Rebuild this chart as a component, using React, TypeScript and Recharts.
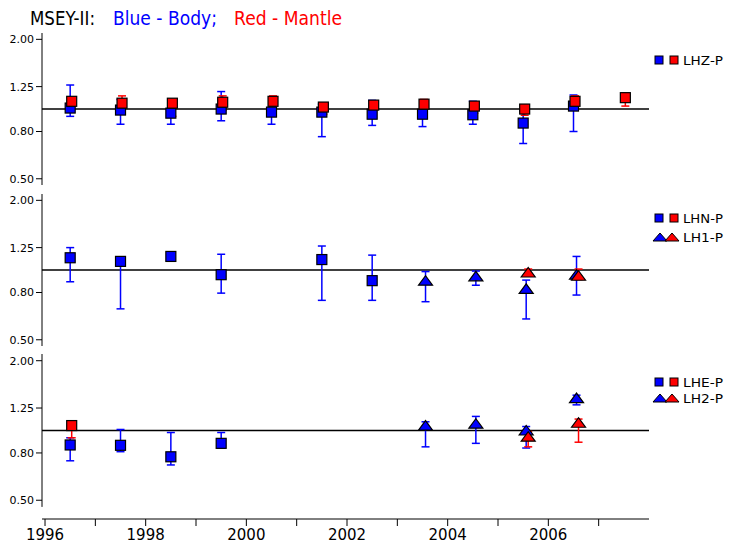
import { ScatterChart, Scatter, XAxis, YAxis, ErrorBar, ReferenceLine } from 'recharts';

// [year, value, low, high]
const lhzBody = [
  [1996.5, 1.01, 0.93, 1.27],
  [1997.5, 0.99, 0.86, 1.1],
  [1998.5, 0.96, 0.86, 1.01],
  [1999.5, 1.0, 0.89, 1.19],
  [2000.5, 0.97, 0.86, 0.99],
  [2001.5, 0.97, 0.76, 1.05],
  [2002.5, 0.95, 0.85, 1.09],
  [2003.5, 0.95, 0.84, 0.99],
  [2004.5, 0.945, 0.86, 1.08],
  [2005.5, 0.87, 0.71, 0.98],
  [2006.5, 1.03, 0.8, 1.15],
];
const lhzMantle = [
  [1996.53, 1.08, 1.03, 1.1],
  [1997.53, 1.06, 1.02, 1.14],
  [1998.53, 1.06, 0.93, 1.07],
  [1999.53, 1.07, 0.99, 1.14],
  [2000.53, 1.08, 1.05, 1.14],
  [2001.53, 1.02, 0.95, 1.06],
  [2002.53, 1.04, 1.0, 1.07],
  [2003.53, 1.05, 0.97, 1.1],
  [2004.53, 1.03, 0.96, 1.05],
  [2005.53, 1.0, 0.94, 1.04],
  [2006.53, 1.08, 1.02, 1.14],
  [2007.53, 1.12, 1.03, 1.17],
];
const lhnBody = [
  [1996.5, 1.13, 0.89, 1.25],
  [1997.5, 1.09, 0.68, 1.1],
  [1998.5, 1.145, 1.13, 1.15],
  [1999.5, 0.955, 0.795, 1.17],
  [2001.5, 1.11, 0.74, 1.27],
  [2002.5, 0.9, 0.74, 1.16],
];
const lh1Body = [
  [2003.56, 0.9, 0.73, 0.985],
  [2004.56, 0.94, 0.86, 0.99],
  [2005.56, 0.83, 0.615, 0.905],
  [2006.56, 0.955, 0.78, 1.145],
];
const lh1Mantle = [
  [2005.6, 0.976, 0.94, 1.01],
  [2006.6, 0.945, 0.91, 1.01],
];
const lheBody = [
  [1996.5, 0.866, 0.74, 0.93],
  [1997.5, 0.863, 0.81, 1.01],
  [1998.5, 0.77, 0.71, 0.98],
  [1999.5, 0.88, 0.84, 0.98],
];
const lheMantle = [[1996.53, 1.05, 0.93, 1.065]];
const lh2Body = [
  [2003.56, 1.05, 0.85, 1.09],
  [2004.56, 1.07, 0.88, 1.15],
  [2005.56, 1.0, 0.84, 1.04],
  [2006.56, 1.38, 1.29, 1.42],
];
const lh2Mantle = [
  [2005.6, 0.94, 0.85, 0.99],
  [2006.6, 1.08, 0.89, 1.12],
];

const yTicks = [0.5, 0.8, 1.25, 2.0];
const xTicks = [1996, 1997, 1998, 1999, 2000, 2001, 2002, 2003, 2004, 2005, 2006, 2007];
const xDomain = [1995.94, 2008.0];
const yDomain = [0.47, 2.13];
const yDomainLast = [0.415, 2.138];

const BLUE = '#0000ff';
const RED = '#ff0000';
const FONT = 'DejaVu Sans';

const toPoints = (rows: number[][]) =>
  rows.map(([x, y, lo, hi]) => ({ x, y, err: [y - lo, hi - y] }));

const square = (color: string) => (p: any) => (
  <rect x={p.cx - 5} y={p.cy - 5} width={10} height={10} fill={color} stroke="#000" strokeWidth={1.2} />
);
const triangle = (color: string) => (p: any) => (
  <polygon
    points={`${p.cx - 7},${p.cy + 4.5} ${p.cx + 7},${p.cy + 4.5} ${p.cx},${p.cy - 5}`}
    fill={color}
    stroke="#000"
    strokeWidth={1.2}
  />
);

const yTick = { fill: '#000', fontSize: 11, fontFamily: FONT };
const xTick = { fill: '#000', fontSize: 15, fontFamily: FONT };

function series(rows: number[][], color: string, shape: 'sq' | 'tri', name: string) {
  return (
    <Scatter
      key={name}
      name={name}
      data={toPoints(rows)}
      isAnimationActive={false}
      shape={shape === 'sq' ? square(color) : triangle(color)}
    >
      <ErrorBar dataKey="err" direction="y" width={4} stroke={color} strokeWidth={1.5} isAnimationActive={false} />
    </Scatter>
  );
}

function Panel({ top, height, mTop, mBottom, last, children }: any) {
  return (
    <div style={{ position: 'absolute', left: 0, top, width: 733, height }}>
      <ScatterChart width={733} height={height} margin={{ top: mTop, right: 84, bottom: mBottom, left: 0 }}>
        <XAxis
          type="number"
          dataKey="x"
          domain={xDomain}
          allowDataOverflow
          hide={!last}
          ticks={xTicks}
          interval={0}
          tickFormatter={(v: number) => (v % 2 === 0 ? String(v) : '')}
          tick={xTick}
          tickSize={7}
          tickMargin={3}
          height={32}
          stroke="#000"
        />
        <YAxis
          type="number"
          dataKey="y"
          scale="log"
          domain={last ? yDomainLast : yDomain}
          allowDataOverflow
          ticks={yTicks}
          interval={0}
          tickFormatter={(v: number) => v.toFixed(2)}
          tick={yTick}
          tickSize={6}
          tickMargin={2}
          width={42}
          axisLine={!last}
          stroke="#000"
        />
        {last && (
          <ReferenceLine
            segment={[
              { x: xDomain[0], y: 0.468 },
              { x: xDomain[0], y: 2.138 },
            ]}
            stroke="#000"
            strokeWidth={1}
            ifOverflow="visible"
          />
        )}
        <ReferenceLine y={1} stroke="#000" strokeWidth={1.5} />
        {children}
      </ScatterChart>
    </div>
  );
}

function LegendRow({ y, kind, label }: { y: number; kind: 'sq' | 'tri'; label: string }) {
  return (
    <g>
      {kind === 'sq' ? (
        <>
          <rect x={655} y={y - 4} width={8} height={8} fill={BLUE} stroke="#000" strokeWidth={1} />
          <rect x={670} y={y - 4} width={8} height={8} fill={RED} stroke="#000" strokeWidth={1} />
        </>
      ) : (
        <>
          <polygon points={`${653},${y + 4} ${667},${y + 4} ${660},${y - 4}`} fill={BLUE} stroke="#000" />
          <polygon points={`${665},${y + 4} ${679},${y + 4} ${672},${y - 4}`} fill={RED} stroke="#000" />
        </>
      )}
      <text x={683} y={y + 4.5} fontSize={12} fontFamily={FONT} fill="#000" textLength={40} lengthAdjust="spacingAndGlyphs">
        {label}
      </text>
    </g>
  );
}

export default function App() {
  return (
    <div style={{ position: 'absolute', left: 0, top: 0, width: 733, height: 551, background: '#fff' }}>
      <Panel top={0} height={190} mTop={33} mBottom={5}>
        {series(lhzBody, BLUE, 'sq', 'LHZ-P body')}
        {series(lhzMantle, RED, 'sq', 'LHZ-P mantle')}
      </Panel>
      <Panel top={190} height={160} mTop={4} mBottom={4}>
        {series(lhnBody, BLUE, 'sq', 'LHN-P body')}
        {series(lh1Body, BLUE, 'tri', 'LH1-P body')}
        {series(lh1Mantle, RED, 'tri', 'LH1-P mantle')}
      </Panel>
      <Panel top={350} height={201} mTop={4} mBottom={0} last>
        {series(lheBody, BLUE, 'sq', 'LHE-P body')}
        {series(lheMantle, RED, 'sq', 'LHE-P mantle')}
        {series(lh2Body, BLUE, 'tri', 'LH2-P body')}
        {series(lh2Mantle, RED, 'tri', 'LH2-P mantle')}
      </Panel>
      <svg width={733} height={551} style={{ position: 'absolute', left: 0, top: 0, pointerEvents: 'none' }}>
        <text x={30} y={25} fontSize={19} fontFamily={FONT} fill="#000" textLength={65} lengthAdjust="spacingAndGlyphs">
          MSEY-II:
        </text>
        <text x={113} y={25} fontSize={19} fontFamily={FONT} fill={BLUE} textLength={104} lengthAdjust="spacingAndGlyphs">
          Blue - Body;
        </text>
        <text x={234} y={25} fontSize={19} fontFamily={FONT} fill={RED} textLength={108} lengthAdjust="spacingAndGlyphs">
          Red - Mantle
        </text>
        <LegendRow y={60} kind="sq" label="LHZ-P" />
        <LegendRow y={218} kind="sq" label="LHN-P" />
        <LegendRow y={237} kind="tri" label="LH1-P" />
        <LegendRow y={382} kind="sq" label="LHE-P" />
        <LegendRow y={398} kind="tri" label="LH2-P" />
      </svg>
    </div>
  );
}
